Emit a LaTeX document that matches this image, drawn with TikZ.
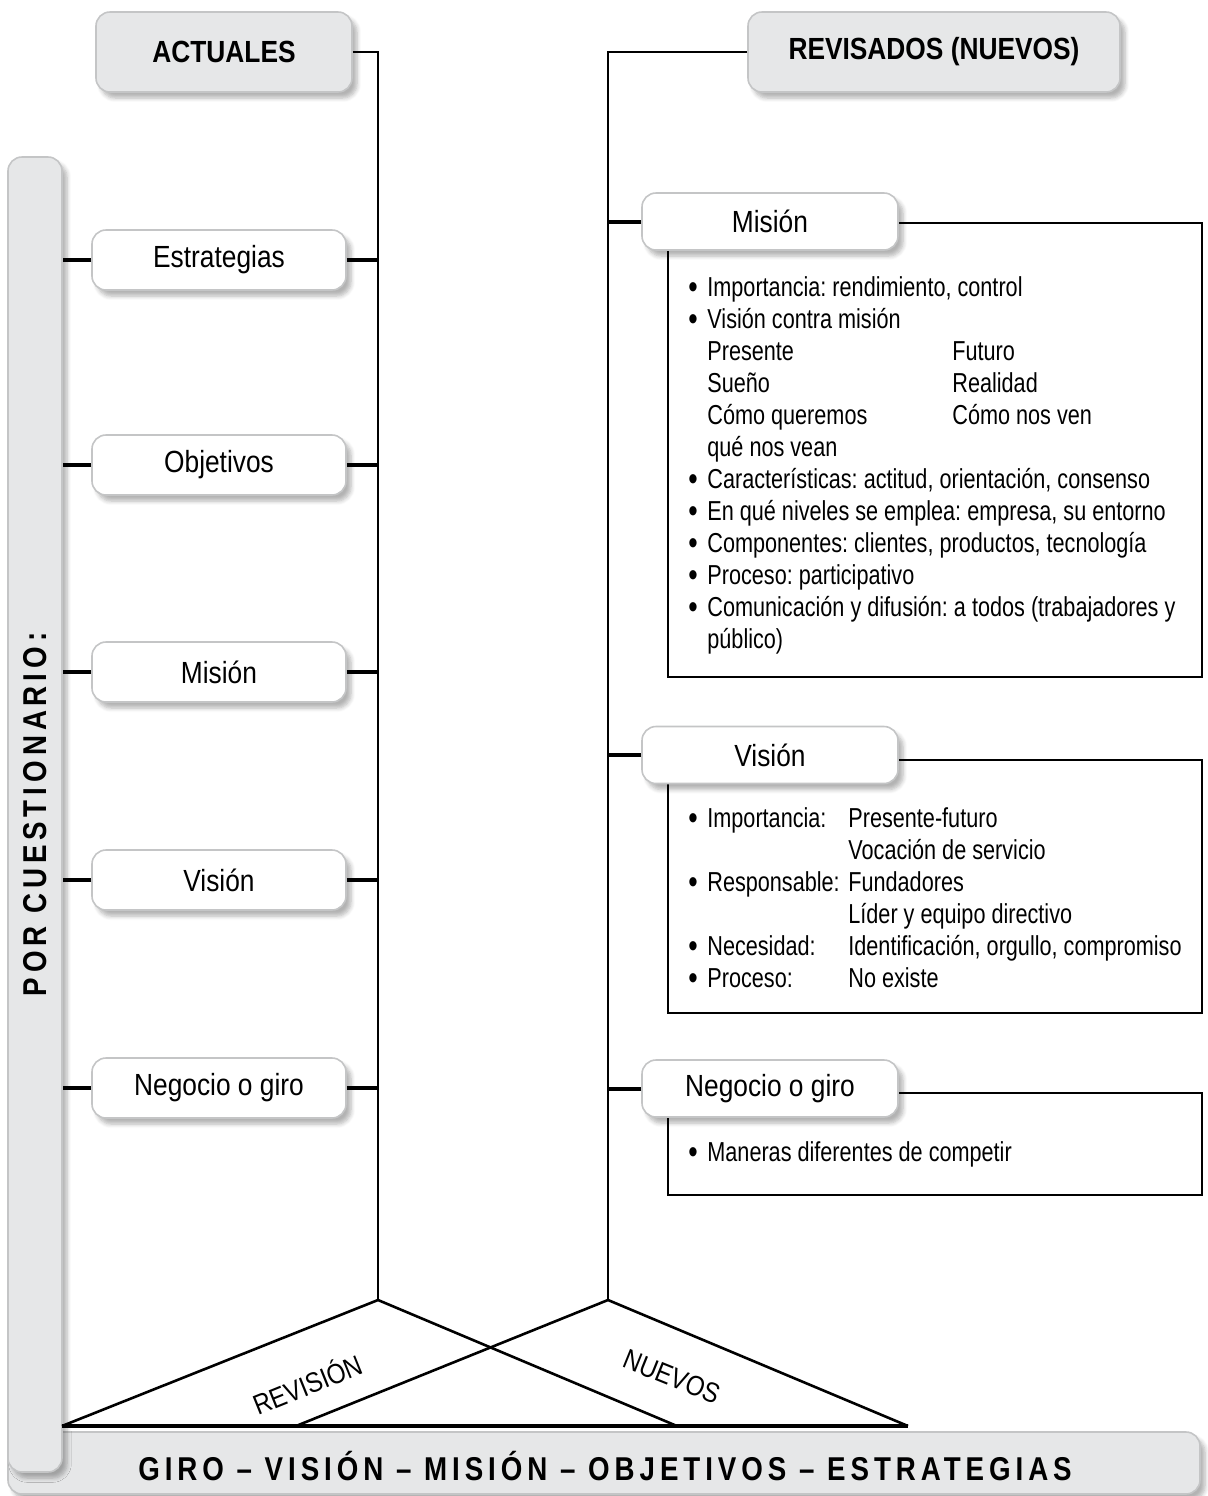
\documentclass[tikz,border=0pt]{standalone}
\usepackage{fontspec}
\setmainfont{Liberation Sans}[FakeStretch=0.86]
\newfontfamily\bodyfont{Liberation Sans}[FakeStretch=0.79]
\newfontfamily\spaced{Liberation Sans}[FakeStretch=0.84,LetterSpace=15]
\usetikzlibrary{shadows.blur}

\definecolor{boxgray}{HTML}{E6E7E8}
\definecolor{rimgray}{HTML}{C4C5C6}

\newcommand\bul{\makebox[9.5pt][l]{\raisebox{-0.6pt}{\fontsize{17}{16}\selectfont\textbullet}}}
\newcommand\skipin{\hspace*{9.5pt}}

\tikzset{
  base/.style={rounded corners=7pt, draw=rimgray, line width=0.8pt,
    blur shadow={shadow xshift=2.5pt, shadow yshift=-3pt, shadow blur steps=6, shadow opacity=30}},
  headbox/.style={base, fill=boxgray, minimum width=128pt, minimum height=40pt,
    font=\fontsize{15.3}{18}\selectfont\bfseries},
  itembox/.style={base, fill=white, minimum width=127pt, minimum height=30pt,
    font=\fontsize{15.3}{18}\selectfont},
  tabbox/.style={itembox, minimum width=128pt, minimum height=28.5pt},
  barbox/.style={base, fill=boxgray},
  link/.style={line width=1.3pt},
  stub/.style={line width=2pt},
  frame/.style={line width=1pt},
  body/.style={anchor=north west, inner sep=0pt, font=\bodyfont\frenchspacing\fontsize{13.7}{16}\selectfont},
  slant/.style={inner sep=0pt, font=\fontsize{14}{16}\selectfont},
}

\begin{document}
\begin{tikzpicture}[x=0.5pt, y=-0.5pt]
  \useasboundingbox (0,0) rectangle (1207,1496);

  % bars
  \node[barbox, minimum width=596pt, minimum height=31pt] (giro) at (604,1463) {};
  \node[font=\spaced\bfseries\fontsize{16.5}{19}\selectfont] (girotxt) at (605,1466)
    {GIRO – VISIÓN – MISIÓN – OBJETIVOS – ESTRATEGIAS};
  \node[barbox, minimum width=27pt, minimum height=657.5pt] (bar) at (35,814.5) {};
  \node[rotate=90, font=\spaced\bfseries\fontsize{16.5}{18}\selectfont] (bartxt) at (bar.center)
    {POR CUESTIONARIO:};

  % headers
  \node[headbox] (act) at (224,52) {ACTUALES};
  \node[headbox, minimum width=186pt] (rev) at (934,52) {REVISADOS (NUEVOS)};

  \coordinate (abot) at (378,1300);
  \coordinate (nbot) at (608,1300);
  \draw[link] (act.east) -- (act.east -| abot) -- (abot);
  \draw[link] (rev.west) -- (rev.west -| nbot) -- (nbot);

  % actuales
  \node[itembox] (est) at (219,260) {Estrategias};
  \node[itembox] (obj) at (219,465) {Objetivos};
  \node[itembox] (mis) at (219,672) {Misión};
  \node[itembox] (vis) at (219,880) {Visión};
  \node[itembox] (neg) at (219,1088) {Negocio o giro};
  \foreach \n in {est,obj,mis,vis,neg} {
    \draw[stub] (\n.west) -- (\n.west -| bar.east);
    \draw[stub] (\n.east) -- (\n.east -| abot);
  }

  % revisados
  \draw[frame] (668,223) rectangle (1202,677);
  \draw[frame] (668,760) rectangle (1202,1013);
  \draw[frame] (668,1093) rectangle (1202,1195);
  \node[tabbox] (rmis) at (770,221.5) {Misión};
  \node[tabbox] (rvis) at (770,755) {Visión};
  \node[tabbox] (rneg) at (770,1088.5) {Negocio o giro};
  \foreach \n in {rmis,rvis,rneg}
    \draw[stub] (\n.west) -- (\n.west -| nbot);

  \node[body] (tmis) at (688,274) {\begin{tabular}{@{}l@{}}
    \bul Importancia: rendimiento, control\\
    \bul Visión contra misión\\
    \skipin\makebox[122.5pt][l]{Presente}Futuro\\
    \skipin\makebox[122.5pt][l]{Sueño}Realidad\\
    \skipin\makebox[122.5pt][l]{Cómo queremos}Cómo nos ven\\
    \skipin qué nos vean\\
    \bul Características: actitud, orientación, consenso\\
    \bul En qué niveles se emplea: empresa, su entorno\\
    \bul Componentes: clientes, productos, tecnología\\
    \bul Proceso: participativo\\
    \bul Comunicación y difusión: a todos (trabajadores y\\
    \skipin público)
  \end{tabular}};
  \node[body] (tvis) at (688,805) {\begin{tabular}{@{}l@{}}
    \bul\makebox[70.5pt][l]{Importancia:}Presente-futuro\\
    \skipin\makebox[70.5pt][l]{}Vocación de servicio\\
    \bul\makebox[70.5pt][l]{Responsable:}Fundadores\\
    \skipin\makebox[70.5pt][l]{}Líder y equipo directivo\\
    \bul\makebox[70.5pt][l]{Necesidad:}Identificación, orgullo, compromiso\\
    \bul\makebox[70.5pt][l]{Proceso:}No existe
  \end{tabular}};
  \node[body] (tneg) at (688,1139) {\begin{tabular}{@{}l@{}}
    \bul Maneras diferentes de competir
  \end{tabular}};

  % triangles
  \coordinate (bl) at (62,1426);
  \coordinate (lr) at (677,1426);
  \coordinate (rl) at (296,1426);
  \coordinate (br) at (908,1426);
  \draw[link] (bl) -- (abot) -- (lr);
  \draw[link] (rl) -- (nbot) -- (br);
  \draw[stub] (bl) -- (br);
  \node[slant, rotate=22] (revlbl) at (307,1383) {REVISIÓN};
  \node[slant, rotate=-22] (nuelbl) at (672,1377) {NUEVOS};
\end{tikzpicture}
\end{document}
